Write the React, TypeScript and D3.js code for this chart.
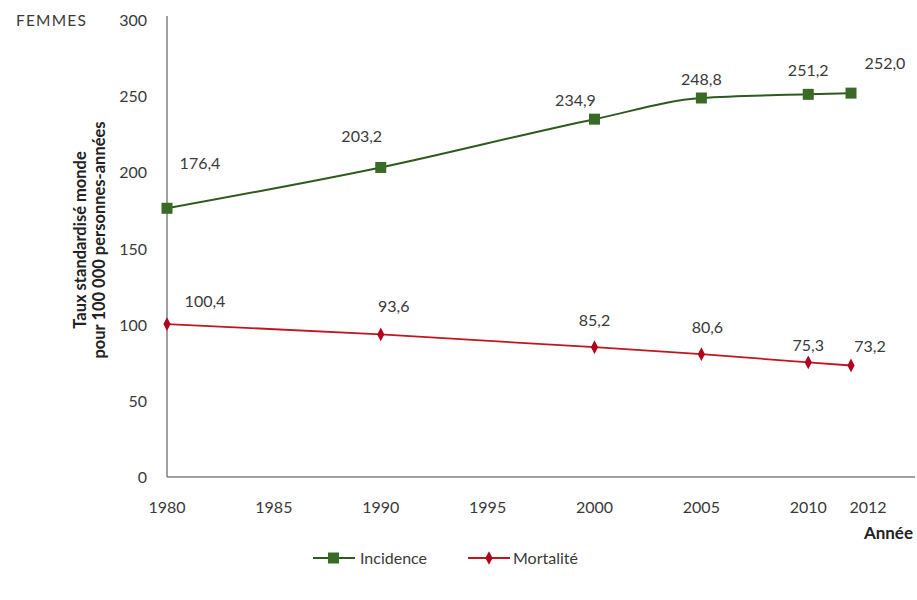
import React from "react";
import * as d3 from "d3";

const years = [1980, 1990, 2000, 2005, 2010, 2012];
const incidence = [176.4, 203.2, 234.9, 248.8, 251.2, 252.0];
const mortalite = [100.4, 93.6, 85.2, 80.6, 75.3, 73.2];
const xTicks = [1980, 1985, 1990, 1995, 2000, 2005, 2010, 2012];
const yTicks = [0, 50, 100, 150, 200, 250, 300];
const incLabelOffsets = [[33, -45], [-19, -31], [-19, -19], [0, -19], [0, -24], [34, -30]];
const morLabelOffsets = [[38, -23], [13, -28], [0, -27], [6, -27], [0, -17], [19, -19]];

const fmt = (v: number) => v.toFixed(1).replace(".", ",");

export default function App() {
  const W = 917, H = 600;
  const x = d3.scaleLinear().domain([1980, 2012]).range([167, 851]);
  const y = d3.scaleLinear().domain([0, 300]).range([477, 20]);
  const font = "Lato, 'Open Sans', sans-serif";
  const incLine = d3.line<number>().x((_, i) => x(years[i])).y((d) => y(d)).curve(d3.curveMonotoneX);
  const morLine = d3.line<number>().x((_, i) => x(years[i])).y((d) => y(d));
  const green = "#3a6b26";
  const greenLine = "#2e5a1e";
  const red = "#b0001e";
  const redLine = "#c0161f";
  const fs = 16;
  const txt = "#3a3a3a";
  return (
    <svg width={W} height={H} style={{ position: "absolute", left: 0, top: 0 }} fontFamily={font}>
      <rect width={W} height={H} fill="#fff" />
      <text x={16} y={26} fontSize={15.5} letterSpacing={1.2} fill={txt}>FEMMES</text>
      {yTicks.map((t) => (
        <text key={t} x={147} y={y(t) + 6} fontSize={fs} textAnchor="end" fill={txt}>{t}</text>
      ))}
      {xTicks.map((t) => (
        <text key={t} x={x(t) + (t === 2012 ? 17 : 0)} y={513} fontSize={fs} textAnchor="middle" fill={txt}>{t}</text>
      ))}
      <line x1={167} y1={16} x2={167} y2={477} stroke="#808080" strokeWidth={1.5} />
      <line x1={167} y1={477} x2={915} y2={477} stroke="#808080" strokeWidth={1.5} />
      <g transform="translate(86,240) rotate(-90)">
        <text x={0} y={0} fontSize={16.5} fontWeight="bold" textAnchor="middle" fill="#222">Taux standardisé monde</text>
        <text x={0} y={19} fontSize={16.5} fontWeight="bold" textAnchor="middle" fill="#222">pour 100 000 personnes-années</text>
      </g>
      <text x={913} y={539} fontSize={17} fontWeight="bold" textAnchor="end" fill="#222">Année</text>
      <path d={incLine(incidence) || ""} fill="none" stroke={greenLine} strokeWidth={2} />
      <path d={morLine(mortalite) || ""} fill="none" stroke={redLine} strokeWidth={1.8} />
      {incidence.map((v, i) => (
        <rect key={i} x={x(years[i]) - 5.5} y={y(v) - 5.5} width={11} height={11} fill={green} />
      ))}
      {mortalite.map((v, i) => (
        <path key={i} d={d3.symbol(d3.symbolDiamond, 45)() || ""} transform={`translate(${x(years[i])},${y(v)}) scale(1,1.1)`} fill={red} />
      ))}
      {incidence.map((v, i) => (
        <text key={i} x={x(years[i]) + incLabelOffsets[i][0]} y={y(v) + incLabelOffsets[i][1] + 6} fontSize={fs} textAnchor="middle" fill={txt}>{fmt(v)}</text>
      ))}
      {mortalite.map((v, i) => (
        <text key={i} x={x(years[i]) + morLabelOffsets[i][0]} y={y(v) + morLabelOffsets[i][1] + 6} fontSize={fs} textAnchor="middle" fill={txt}>{fmt(v)}</text>
      ))}
      <g>
        <line x1={313} y1={558} x2={355} y2={558} stroke={greenLine} strokeWidth={2} />
        <rect x={328} y={552.5} width={11} height={11} fill={green} />
        <text x={360} y={564} fontSize={fs} fill={txt}>Incidence</text>
        <line x1={468} y1={558} x2={510} y2={558} stroke={redLine} strokeWidth={1.8} />
        <path d={d3.symbol(d3.symbolDiamond, 45)() || ""} transform="translate(489,558) scale(1,1.1)" fill={red} />
        <text x={513} y={564} fontSize={fs} fill={txt}>Mortalité</text>
      </g>
    </svg>
  );
}
